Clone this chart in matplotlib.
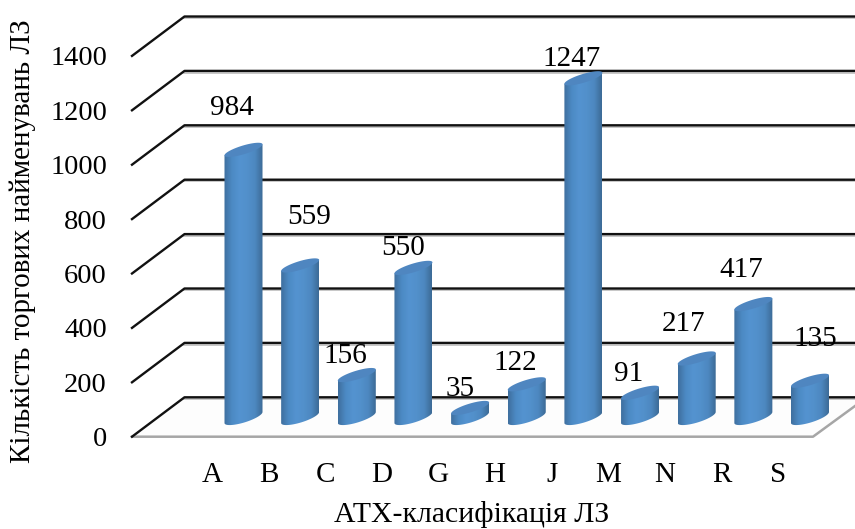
import numpy as np
import matplotlib
matplotlib.use("Agg")
import matplotlib.pyplot as plt
from matplotlib.colors import LinearSegmentedColormap
from matplotlib.patches import Polygon

categories = ["A", "B", "C", "D", "G", "H", "J", "M", "N", "R", "S"]
counts = [984, 559, 156, 550, 35, 122, 1247, 91, 217, 417, 135]
tick_values = [0, 200, 400, 600, 800, 1000, 1200, 1400]

# label offsets from the top of each bar, in pixels
label_dx = [-12, 9, -11, -10, -10, -11, -12, -11, -13, -12, 5]
label_dy = [42, 48, 19, 20, 19, 21, 19, 19, 34, 34, 42]

plt.rcParams["font.family"] = ["Liberation Serif", "DejaVu Serif"]

W, H = 855, 529
x0, dx = 243.5, 56.65   # pixel of first category, pixels per category
y0, py = 417.5, 0.272   # pixel of value 0 on bars, pixels per unit

fig = plt.figure(figsize=(W / 100, H / 100), dpi=100)
ax = fig.add_axes([0, 0, 1, 1])
ax.axis("off")
xlim = (-x0 / dx, (W - x0) / dx)
ylim = ((y0 - H) / py, y0 / py)

# 3d box: offsets of the front and back planes, in data units
front_x, back_x = (132 - x0) / dx, (184.5 - x0) / dx
floor_x = (813 - x0) / dx
front_off, back_off = (y0 - 436.7) / py, (y0 - 397.3) / py

floor = Polygon([(front_x, front_off), (floor_x, front_off), (xlim[1], (y0 - 406) / py),
                 (xlim[1], back_off), (back_x, back_off)], closed=True, fc="#fdfdfd", ec="none", zorder=1)
ax.add_patch(floor)
ax.plot([front_x, floor_x, xlim[1]], [front_off, front_off, (y0 - 406) / py], color="#a6a6a6", lw=1.8, zorder=1.5)

for v in tick_values:
    ax.plot([back_x, xlim[1]], [v + back_off - 1.6 / py] * 2, color="#bdbdbd", lw=1.2, zorder=1.8)
    ax.plot([front_x, back_x, xlim[1]], [v + front_off, v + back_off, v + back_off], color="#111111", lw=1.7, zorder=2)
    ax.text((107 - x0) / dx, v + front_off - 3 / py, str(v), ha="right", va="center", fontsize=20.5, color="black")

# cylinders
half_w = 19 / dx
shear = 5.5 / py
b_top = 4.5 / py
b_base = 5.2 / py
t = np.linspace(0, 2 * np.pi, 120)
cyl = LinearSegmentedColormap.from_list("cyl", ["#3f6f9f", "#4c8ac4", "#5493d0", "#5290cb", "#4d88c0", "#3d6b97"])
grad = np.linspace(0, 1, 80)[None, :]

for i, v in enumerate(counts):
    ex = half_w * np.cos(t)
    ey = shear * np.cos(t) + b_top * np.sin(t)
    base_y = shear * np.cos(t) + b_base * np.sin(t)
    low = np.sin(t) <= 0
    order = np.argsort(ex[low])
    # body outline: lower arc of the base, then straight up and across the top
    bx = ex[low][order] + i
    by = base_y[low][order]
    body = np.column_stack([np.r_[bx, i + half_w, i - half_w], np.r_[by, v + shear, v - shear]])
    clip = Polygon(body, closed=True, fc="none", ec="none", transform=ax.transData)
    ax.add_patch(clip)
    im = ax.imshow(grad, cmap=cyl, aspect="auto", extent=(i - half_w, i + half_w, -60, v + 60),
                   zorder=3 + i * 0.01, interpolation="bilinear")
    im.set_clip_path(clip)
    ax.fill(i + ex, v + ey, color="#4f86c0", lw=0, zorder=3.005 + i * 0.01)
    ax.annotate(str(v), (i, v), xytext=(label_dx[i], label_dy[i]), textcoords="offset pixels",
                ha="center", va="center", fontsize=21, color="black", zorder=5)
    ax.text(i - 0.56, (y0 - 475) / py, categories[i], ha="center", va="center", fontsize=21, color="black", zorder=5)

ax.text((472 - x0) / dx, (y0 - 515) / py, "АТХ-класифікація ЛЗ", ha="center", va="center", fontsize=21.4, color="black")
ax.text((23 - x0) / dx, (y0 - 241) / py, "Кількість торгових найменувань ЛЗ", ha="center", va="center",
        rotation=90, fontsize=21, color="black")

ax.set_xlim(*xlim)
ax.set_ylim(*ylim)
fig.savefig("out.png", dpi=100)
